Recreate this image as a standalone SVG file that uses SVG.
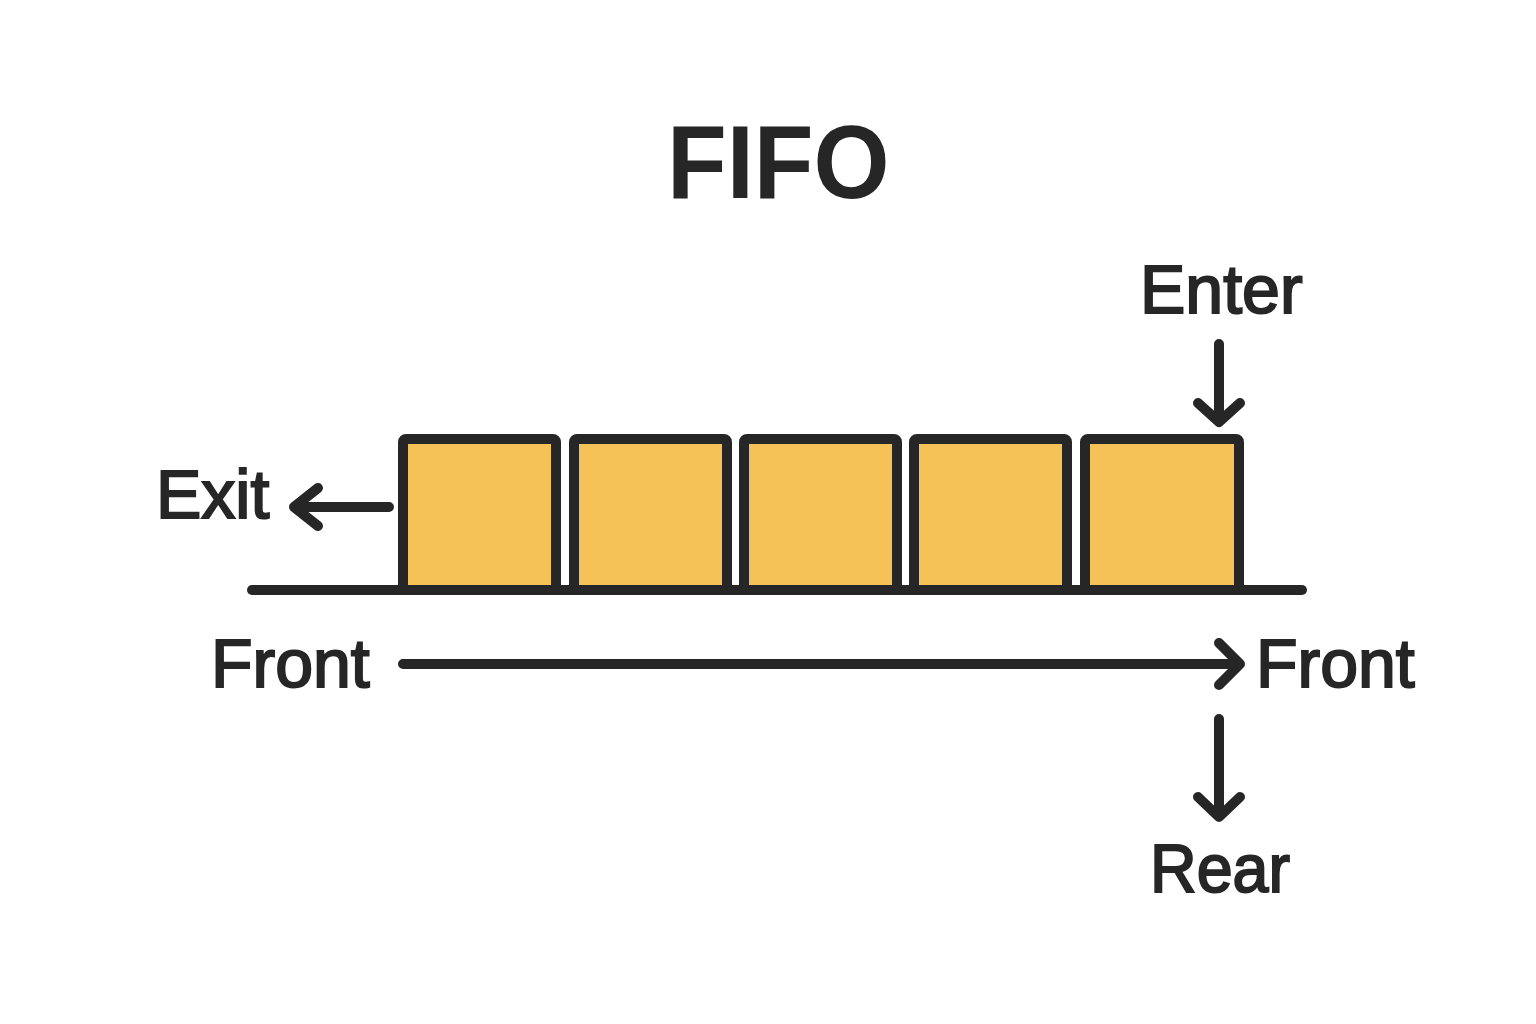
<svg xmlns="http://www.w3.org/2000/svg" width="1536" height="1024" viewBox="0 0 1536 1024">
<style>
.lbl{font-family:"Liberation Sans",Arial,sans-serif;font-size:68px;fill:#262626;stroke:#262626;stroke-width:2px;paint-order:stroke}
.title{font-family:"Liberation Sans",Arial,sans-serif;font-size:104px;font-weight:bold;fill:#262626}
.box{fill:#F5C257;stroke:#262626;stroke-width:10;stroke-linejoin:round}
.ln{fill:none;stroke:#262626;stroke-width:10;stroke-linecap:round;stroke-linejoin:round}
</style>
<rect width="1536" height="1024" fill="#ffffff"/>
<text class="title" transform="translate(667 198) scale(0.94 1)" x="0" y="0">FIFO</text>
<g id="box1"><rect class="box" x="403" y="439" width="153" height="151" rx="3"/></g>
<g id="box2"><rect class="box" x="574" y="439" width="153" height="151" rx="3"/></g>
<g id="box3"><rect class="box" x="744" y="439" width="153" height="151" rx="3"/></g>
<g id="box4"><rect class="box" x="914" y="439" width="153" height="151" rx="3"/></g>
<g id="box5"><rect class="box" x="1085" y="439" width="154" height="151" rx="3"/></g>
<g id="baseline"><line class="ln" x1="252" y1="590" x2="1302" y2="590"/></g>
<g id="exit"><text class="lbl" x="156" y="518">Exit</text></g>
<g id="enter"><text class="lbl" x="1140" y="313">Enter</text></g>
<g id="front-left"><text class="lbl" x="211" y="687">Front</text></g>
<g id="front-right"><text class="lbl" x="1256" y="687">Front</text></g>
<g id="rear"><text class="lbl" transform="translate(1150 892) scale(0.95 1)" x="0" y="0">Rear</text></g>
<g id="connectors">
<path class="ln" d="M389 507 H294 M318 488 L294 507 L318 526"/>
<path class="ln" d="M1219 344 V421 M1198 403 L1219 422 L1240 403"/>
<path class="ln" d="M403 664 H1239 M1219 643 L1240 664 L1219 685"/>
<path class="ln" d="M1219 719 V816 M1198 797 L1219 817 L1240 797"/>
</g>
</svg>
